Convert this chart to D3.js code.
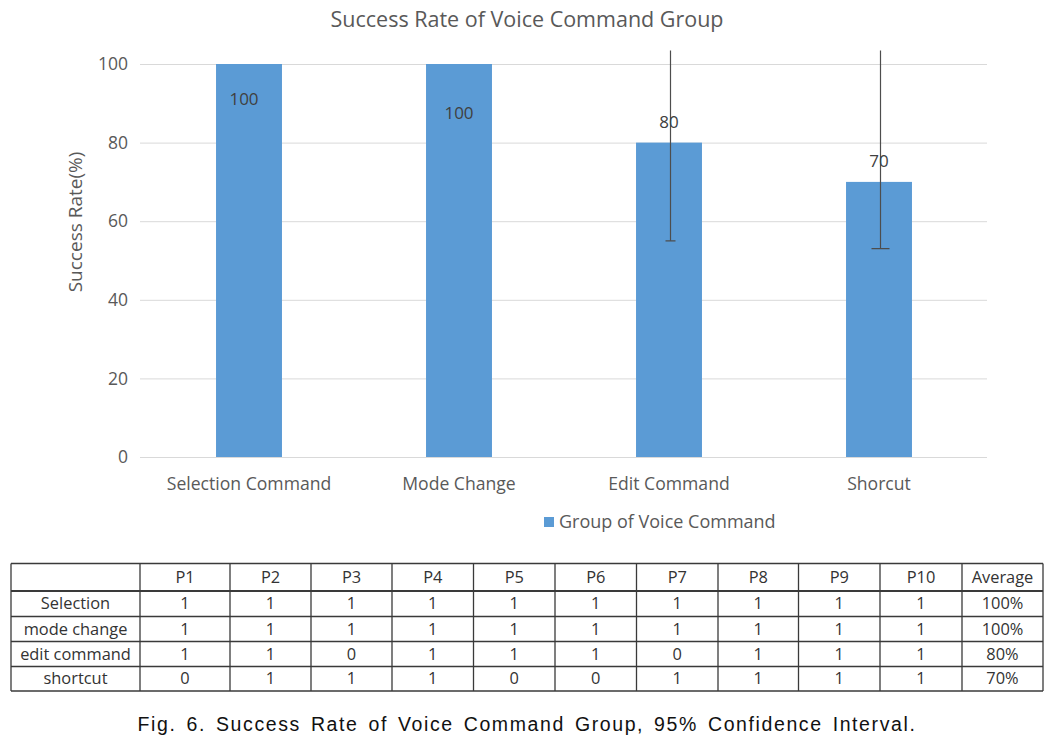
<!DOCTYPE html>
<html>
<head>
<meta charset="utf-8">
<script src="https://cdn.jsdelivr.net/npm/d3@7/dist/d3.min.js"></script>
<style>
  html, body { margin: 0; padding: 0; background: #fff; }
  svg { display: block; }
</style>
</head>
<body>
<svg id="chart" width="1063" height="741"></svg>
<script>
// ---------------- DATA ----------------
const chartTitle = "Success Rate of Voice Command Group";
const yAxisTitle = "Success Rate(%)";
const legendLabel = "Group of Voice Command";
const categories = ["Selection Command", "Mode Change", "Edit Command", "Shorcut"];
const successRate = [100, 100, 80, 70];
const ciLower = [null, null, 55, 53];
const ciUpper = [null, null, 105, 105];
const yTicks = [0, 20, 40, 60, 80, 100];

const tableHeader = ["", "P1", "P2", "P3", "P4", "P5", "P6", "P7", "P8", "P9", "P10", "Average"];
const tableRowLabels = ["Selection", "mode change", "edit command", "shortcut"];
const selectionResults = [1, 1, 1, 1, 1, 1, 1, 1, 1, 1];
const modeChangeResults = [1, 1, 1, 1, 1, 1, 1, 1, 1, 1];
const editCommandResults = [1, 1, 0, 1, 1, 1, 0, 1, 1, 1];
const shortcutResults = [0, 1, 1, 1, 0, 0, 1, 1, 1, 1];
const averages = ["100%", "100%", "80%", "70%"];
const caption = "Fig. 6. Success Rate of Voice Command Group, 95% Confidence Interval.";

// ---------------- LAYOUT / STYLE ----------------
const svg = d3.select("#chart");
svg.append("rect").attr("width", 1063).attr("height", 741).attr("fill", "#fff");

const chartFont = "'Open Sans', 'Noto Sans', sans-serif";
const textGray = "#595959";
const barColor = "#5B9BD5";
const plot = { left: 144, right: 984, top: 64, bottom: 457, clipTop: 50.5 };

const x = d3.scaleBand()
  .domain(categories)
  .range([plot.left, plot.right])
  .paddingInner(0.686)
  .paddingOuter(0.343);

const y = d3.scaleLinear().domain([0, 100]).range([plot.bottom, plot.top]);

// title
svg.append("text")
  .attr("x", 527).attr("y", 27)
  .attr("text-anchor", "middle")
  .attr("font-family", chartFont)
  .attr("font-size", 21.5)
  .attr("fill", textGray)
  .text(chartTitle);

// gridlines + y labels via axis
const yAxis = d3.axisLeft(y).tickValues(yTicks).tickSize(-(987 - 140)).tickPadding(12);
const gy = svg.append("g").attr("transform", "translate(140,0)").call(yAxis);
gy.select(".domain").remove();
gy.selectAll(".tick line").attr("stroke", "#d9d9d9").attr("stroke-width", 1);
gy.selectAll(".tick text")
  .attr("font-family", chartFont)
  .attr("font-size", 17.5)
  .attr("fill", textGray)
  .attr("x", -12);

// y axis title
svg.append("text")
  .attr("transform", "translate(82,222) rotate(-90)")
  .attr("text-anchor", "middle")
  .attr("font-family", chartFont)
  .attr("font-size", 19)
  .attr("fill", textGray)
  .text(yAxisTitle);

// bars
const data = categories.map((c, i) => ({ c, v: successRate[i], lo: ciLower[i], hi: ciUpper[i], i }));
svg.append("g").selectAll("rect").data(data).join("rect")
  .attr("x", d => x(d.c))
  .attr("y", d => y(d.v))
  .attr("width", x.bandwidth())
  .attr("height", d => y(0) - y(d.v))
  .attr("fill", barColor);

// x axis labels
const xAxis = d3.axisBottom(x).tickSize(0).tickPadding(21);
const gx = svg.append("g").attr("transform", `translate(0,${plot.bottom})`).call(xAxis);
gx.select(".domain").remove();
gx.selectAll(".tick text")
  .attr("font-family", chartFont)
  .attr("font-size", 17.6)
  .attr("fill", textGray);

// error bars (clipped at plot area top)
svg.append("clipPath").attr("id", "plotClip")
  .append("rect").attr("x", 0).attr("y", plot.clipTop).attr("width", 1063).attr("height", plot.bottom - plot.clipTop + 5);
const capHalf = [0, 0, 5, 9];
const eg = svg.append("g").attr("clip-path", "url(#plotClip)");
const errData = data.filter(d => d.lo !== null);
eg.selectAll("line.err").data(errData).join("line")
  .attr("class", "err")
  .attr("x1", d => x(d.c) + x.bandwidth() / 2 + 1.5)
  .attr("x2", d => x(d.c) + x.bandwidth() / 2 + 1.5)
  .attr("y1", d => y(d.lo))
  .attr("y2", d => y(d.hi))
  .attr("stroke", "#4d4d4d").attr("stroke-width", 1.2);
eg.selectAll("line.cap").data(errData).join("line")
  .attr("class", "cap")
  .attr("x1", d => x(d.c) + x.bandwidth() / 2 + 1.5 - capHalf[d.i])
  .attr("x2", d => x(d.c) + x.bandwidth() / 2 + 1.5 + capHalf[d.i])
  .attr("y1", d => y(d.lo))
  .attr("y2", d => y(d.lo))
  .attr("stroke", "#4d4d4d").attr("stroke-width", 1.2);

// data labels (offset of label centre from bar top / centre)
const labelDy = [35, 49, -20.5, -21];
const labelDx = [-5, 0, 0, 0];
svg.append("g").selectAll("text").data(data).join("text")
  .attr("x", d => x(d.c) + x.bandwidth() / 2 + labelDx[d.i])
  .attr("y", d => y(d.v) + labelDy[d.i])
  .attr("dy", "0.35em")
  .attr("text-anchor", "middle")
  .attr("font-family", chartFont)
  .attr("font-size", 17)
  .attr("fill", "#404040")
  .text(d => d.v);

// legend
svg.append("rect").attr("x", 544).attr("y", 517).attr("width", 10).attr("height", 10).attr("fill", barColor);
svg.append("text")
  .attr("x", 559).attr("y", 528)
  .attr("font-family", chartFont)
  .attr("font-size", 18)
  .attr("fill", textGray)
  .text(legendLabel);

// ---------------- TABLE ----------------
const colEdges = [11, 140, 230, 311, 392, 473.5, 555, 636.5, 718, 798.5, 880, 962, 1043];
const rowEdges = [563.5, 591, 616.5, 641.5, 666.5, 691];
const rowsData = [selectionResults, modeChangeResults, editCommandResults, shortcutResults];
const tableFont = "'Open Sans', 'Noto Sans', sans-serif";
const tg = svg.append("g");
const lineColor = "#3a3a3a";

rowEdges.forEach((ry, k) => {
  tg.append("line").attr("x1", colEdges[0]).attr("x2", colEdges[colEdges.length - 1])
    .attr("y1", ry).attr("y2", ry).attr("stroke", lineColor).attr("stroke-width", k === 1 ? 2 : 1.3);
});
colEdges.forEach(cx => {
  tg.append("line").attr("x1", cx).attr("x2", cx)
    .attr("y1", rowEdges[0]).attr("y2", rowEdges[rowEdges.length - 1])
    .attr("stroke", lineColor).attr("stroke-width", 1.3);
});

const cells = [];
tableHeader.forEach((h, j) => cells.push({ r: 0, c: j, t: h }));
tableRowLabels.forEach((lab, i) => {
  cells.push({ r: i + 1, c: 0, t: lab });
  rowsData[i].forEach((v, j) => cells.push({ r: i + 1, c: j + 1, t: String(v) }));
  cells.push({ r: i + 1, c: 11, t: averages[i] });
});
tg.selectAll("text").data(cells).join("text")
  .attr("x", d => (colEdges[d.c] + colEdges[d.c + 1]) / 2)
  .attr("y", d => (rowEdges[d.r] + rowEdges[d.r + 1]) / 2)
  .attr("dy", "0.35em")
  .attr("text-anchor", "middle")
  .attr("font-family", tableFont)
  .attr("font-size", 16.4)
  .attr("fill", "#333")
  .text(d => d.t);

// caption
svg.append("text")
  .attr("x", 527).attr("y", 731)
  .attr("text-anchor", "middle")
  .attr("font-family", "'Liberation Sans', Arial, sans-serif")
  .attr("font-size", 19.5)
  .attr("letter-spacing", 1.6)
  .attr("word-spacing", 3)
  .attr("fill", "#111")
  .text(caption);
</script>
</body>
</html>
